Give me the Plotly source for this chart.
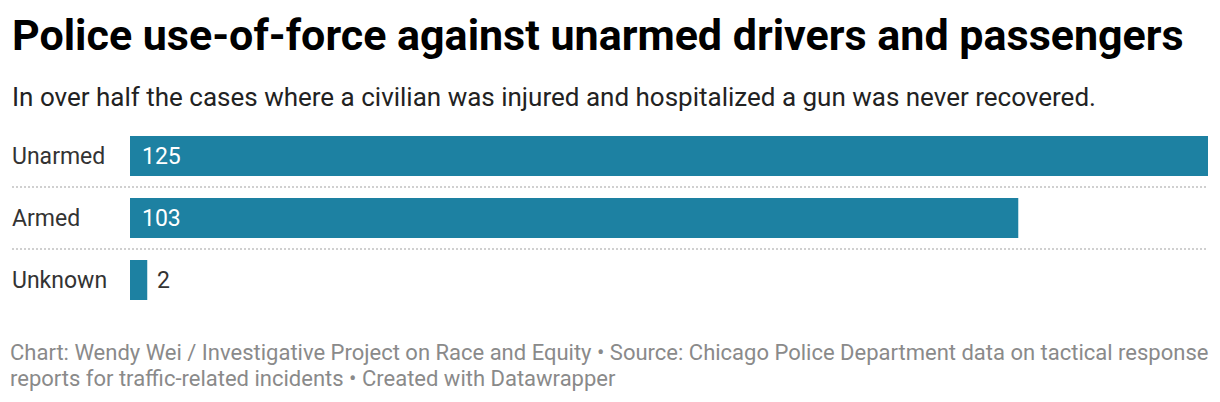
import plotly.graph_objects as go

categories = ["Unarmed", "Armed", "Unknown"]
values = [125, 103, 2]
label_inside = [True, True, False]

title = "Police use-of-force against unarmed drivers and passengers"
subtitle = "In over half the cases where a civilian was injured and hospitalized a gun was never recovered."
footer_1 = "Chart: Wendy Wei / Investigative Project on Race and Equity • Source: Chicago Police Department data on tactical response"
footer_2 = "reports for traffic-related incidents • Created with Datawrapper"

W, H = 1220, 402
ML, MR, MT, MB = 130, 12, 125, 91
plot_w = W - ML - MR

BAR = "#1d81a2"
FONT = "Roboto"
TXT_X = -120 / plot_w

fig = go.Figure(go.Bar(
    x=values, y=categories, orientation="h",
    marker=dict(color=BAR, line=dict(width=0)),
    hoverinfo="skip",
))

ann = []
# category labels
for c in categories:
    ann.append(dict(x=TXT_X, xref="paper", y=c, yref="y", text=c,
                    showarrow=False, xanchor="left", yanchor="middle",
                    font=dict(family=FONT, size=23, color="#333333")))
# value labels
for c, v, ins in zip(categories, values, label_inside):
    if ins:
        ann.append(dict(x=0, y=c, xref="x", yref="y", text=str(v), showarrow=False,
                        xanchor="left", yanchor="middle", xshift=10,
                        font=dict(family=FONT, size=23, color="#ffffff")))
    else:
        ann.append(dict(x=v, y=c, xref="x", yref="y", text=str(v), showarrow=False,
                        xanchor="left", yanchor="middle", xshift=8,
                        font=dict(family=FONT, size=23, color="#333333")))

# title / subtitle / footer
ann.append(dict(x=TXT_X, xref="paper", y=1, yref="paper", yshift=MT - 35,
                text="<b>" + title + "</b>", showarrow=False, xanchor="left", yanchor="middle",
                font=dict(family=FONT, size=43, color="#000000")))
ann.append(dict(x=TXT_X, xref="paper", y=1, yref="paper", yshift=MT - 97,
                text=subtitle, showarrow=False, xanchor="left", yanchor="middle",
                font=dict(family=FONT, size=26, color="#222222")))
ann.append(dict(x=-122 / plot_w, xref="paper", y=0, yref="paper", yshift=-(352.5 - (H - MB)),
                text=footer_1, showarrow=False, xanchor="left", yanchor="middle",
                font=dict(family=FONT, size=22, color="#8a8a8a")))
ann.append(dict(x=-122 / plot_w, xref="paper", y=0, yref="paper", yshift=-(378 - (H - MB)),
                text=footer_2, showarrow=False, xanchor="left", yanchor="middle",
                font=dict(family=FONT, size=22, color="#8a8a8a")))

shapes = []
for yy in [0.5, 1.5]:
    shapes.append(dict(type="line", xref="paper", yref="y", x0=-118 / plot_w, x1=1,
                       y0=yy, y1=yy, line=dict(color="#d0d0d0", width=2, dash="2px,2px"),
                       layer="below"))

fig.update_layout(
    width=W, height=H,
    margin=dict(l=ML, r=MR, t=MT, b=MB, pad=0),
    paper_bgcolor="white", plot_bgcolor="white",
    bargap=22 / 62,
    showlegend=False,
    xaxis=dict(range=[0, max(values)], visible=False, fixedrange=True),
    yaxis=dict(categoryorder="array", categoryarray=categories, autorange="reversed",
               visible=False, fixedrange=True),
    annotations=ann, shapes=shapes,
)

fig.write_html("out.html", config={"displayModeBar": False},
               post_script="document.body.style.margin='0';document.body.style.overflow='hidden';")
